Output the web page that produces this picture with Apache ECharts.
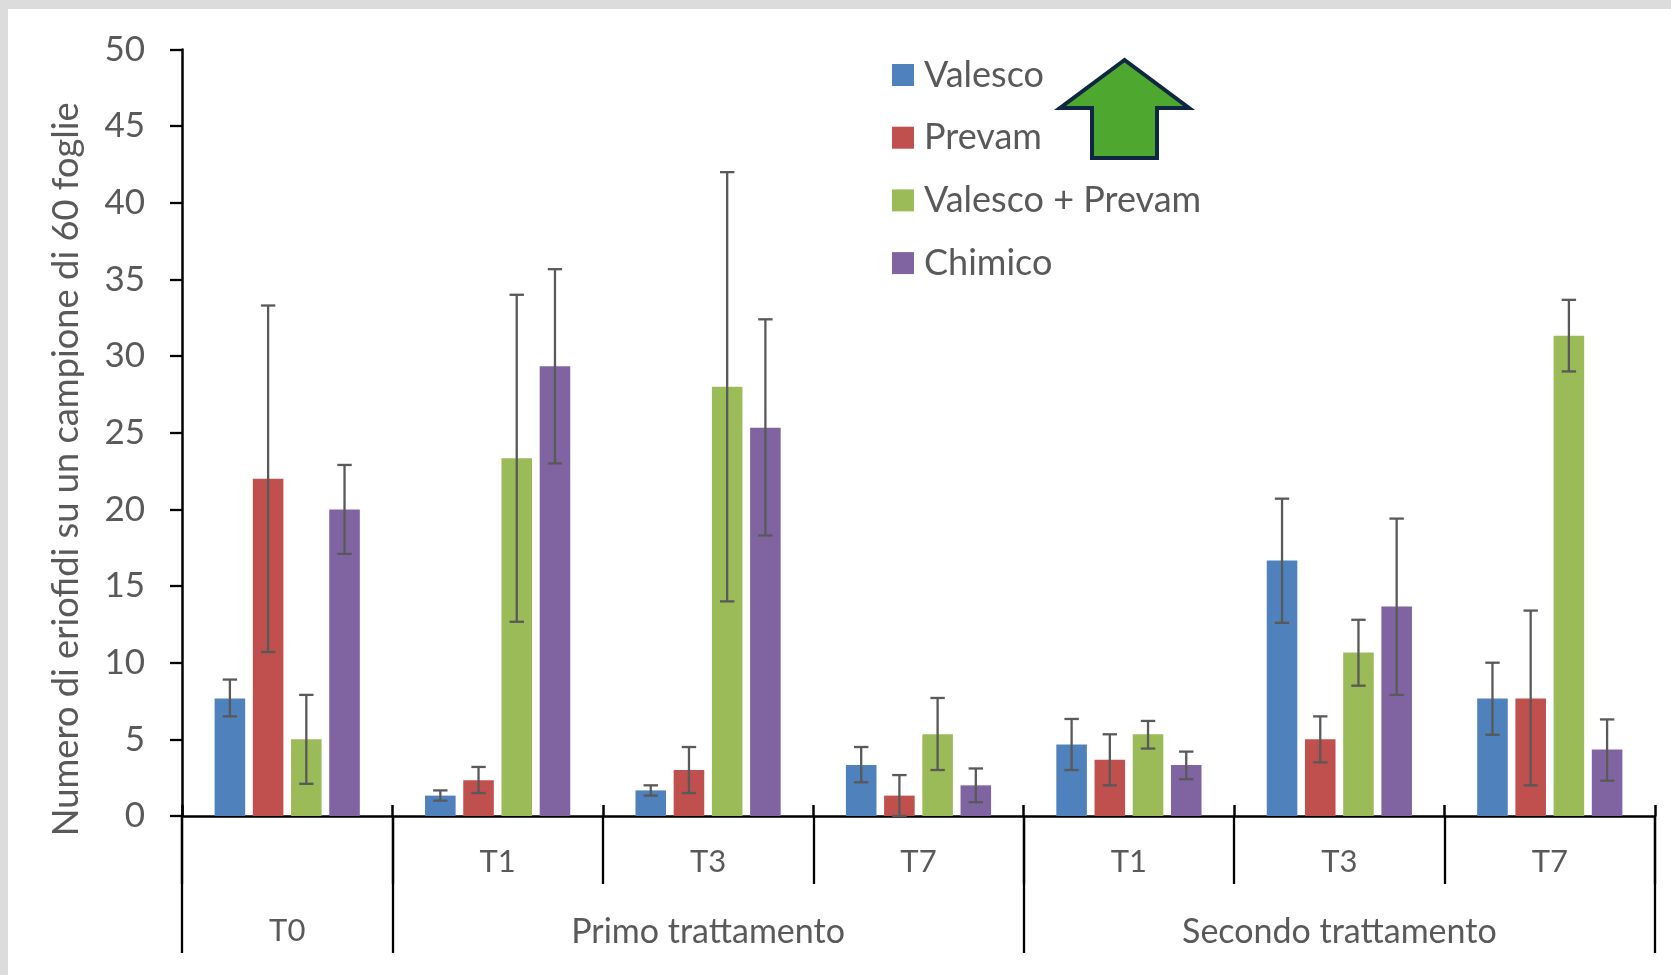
<!DOCTYPE html>
<html><head><meta charset="utf-8">
<style>html,body{margin:0;padding:0;background:#fff}#c{width:1671px;height:975px}</style>
<script src="https://cdn.jsdelivr.net/npm/echarts@6/dist/echarts.min.js"></script>
</head><body><div id="c"></div>
<script>
const categories = ['', 'T1', 'T3', 'T7', 'T1', 'T3', 'T7'];
const groupLabels = ['T0', 'Primo trattamento', 'Secondo trattamento'];
const groupCenters = [0.5, 2.5, 5.5];
const groupEdges = [0, 1, 4, 7];
const allEdges = [0, 1, 2, 3, 4, 5, 6, 7];
const yTicks = [0, 5, 10, 15, 20, 25, 30, 35, 40, 45, 50];

const seriesNames = ['Valesco', 'Prevam', 'Valesco + Prevam', 'Chimico'];
const seriesColors = ['#4f81bd', '#c0504d', '#9bbb59', '#8064a2'];

const valesco = [7.67, 1.33, 1.67, 3.33, 4.67, 16.67, 7.67];
const prevam = [22, 2.33, 3, 1.33, 3.67, 5, 7.67];
const valescoPrevam = [5, 23.33, 28, 5.33, 5.33, 10.67, 31.33];
const chimico = [20, 29.33, 25.33, 2, 3.33, 13.67, 4.33];

const valescoLow = [6.5, 1.0, 1.33, 2.2, 3.0, 12.6, 5.3];
const valescoHigh = [8.9, 1.67, 2.0, 4.5, 6.33, 20.7, 10.0];
const prevamLow = [10.7, 1.5, 1.5, 0, 2.0, 3.5, 2.0];
const prevamHigh = [33.3, 3.2, 4.5, 2.67, 5.33, 6.5, 13.4];
const valescoPrevamLow = [2.1, 12.67, 14, 3.0, 4.4, 8.5, 29.0];
const valescoPrevamHigh = [7.9, 34, 42, 7.7, 6.2, 12.8, 33.67];
const chimicoLow = [17.1, 23, 18.3, 0.9, 2.4, 7.9, 2.3];
const chimicoHigh = [22.9, 35.67, 32.4, 3.1, 4.2, 19.4, 6.3];

const values = [valesco, prevam, valescoPrevam, chimico];
const lows = [valescoLow, prevamLow, valescoPrevamLow, chimicoLow];
const highs = [valescoHigh, prevamHigh, valescoPrevamHigh, chimicoHigh];

const FONT = 'Lato';
const TEXT = '#595959';
const GAP_FRAC = 0.31, BAR_GAP = 0.25;

function errorSeries(si) {
  return {
    type: 'custom', z: 5, silent: true, clip: false, xAxisIndex: 0, yAxisIndex: 0,
    encode: { x: 0, y: [1, 2] },
    data: categories.map((_, i) => [i, lows[si][i], highs[si][i]]),
    renderItem(params, api) {
      const band = api.size([1, 0])[0];
      const w = band * (1 - GAP_FRAC) / (4 + 3 * BAR_GAP);
      const dx = (si - 1.5) * w * (1 + BAR_GAP);
      const lo = api.coord([api.value(0), api.value(1)]);
      const hi = api.coord([api.value(0), api.value(2)]);
      const x = lo[0] + dx, cap = 7.2;
      const style = { stroke: '#595959', lineWidth: 2.3, fill: 'none' };
      return { type: 'group', children: [
        { type: 'line', shape: { x1: x, y1: lo[1], x2: x, y2: hi[1] }, style },
        { type: 'line', shape: { x1: x - cap, y1: lo[1], x2: x + cap, y2: lo[1] }, style },
        { type: 'line', shape: { x1: x - cap, y1: hi[1], x2: x + cap, y2: hi[1] }, style }
      ]};
    }
  };
}

const chart = echarts.init(document.getElementById('c'), null, { renderer: 'canvas' });
chart.setOption({
  animation: false,
  backgroundColor: '#dcdcdc',
  textStyle: { fontFamily: FONT },
  graphic: [
    { type: 'rect', z: -10, silent: true, shape: { x: 8, y: 9, width: 1663, height: 966 }, style: { fill: '#fff' } },
    { type: 'polygon', z: 10, silent: true,
      shape: { points: [[1124.5, 60], [1060, 108], [1092, 108], [1092, 158], [1157, 158], [1157, 108], [1189, 108]] },
      style: { fill: '#4ea72e', stroke: '#0e2841', lineWidth: 4, lineJoin: 'miter', miterLimit: 10 } }
  ],
  legend: {
    orient: 'vertical', left: 892, top: 57, padding: 0, itemWidth: 22, itemHeight: 22, itemGap: 26.7,
    icon: 'rect', data: seriesNames, selectedMode: false,
    textStyle: { color: TEXT, fontSize: 36, fontFamily: FONT, lineHeight: 36, padding: [0, 0, 0, 5] }
  },
  grid: { left: 182, right: 16, top: 49.5, bottom: 159, containLabel: false },
  xAxis: [
    { type: 'category', data: categories, position: 'bottom',
      axisLine: { show: true, onZero: false, lineStyle: { color: '#000', width: 2.5 } },
      axisTick: { show: true, alignWithLabel: false, length: 68, lineStyle: { color: '#000', width: 2.3 } },
      axisLabel: { color: TEXT, fontSize: 31, fontFamily: FONT, margin: 30, interval: 0 },
      splitLine: { show: false } },
    { type: 'value', min: 0, max: 7, position: 'bottom',
      axisLine: { show: false, onZero: false },
      axisTick: { show: true, customValues: groupEdges, length: 137, lineStyle: { color: '#000', width: 2.3 } },
      axisLabel: { show: true, customValues: groupCenters, color: TEXT, fontSize: 34, fontFamily: FONT, margin: 99,
        formatter: v => {
          const s = groupLabels[groupCenters.indexOf(v)] || '';
          return s === 'T0' ? '{small|' + s + '}' : s;
        },
        rich: { small: { fontSize: 31, fontFamily: FONT, color: TEXT } } },
      splitLine: { show: false } },
    { type: 'value', min: 0, max: 7, position: 'bottom',
      axisLine: { show: false, onZero: false },
      axisTick: { show: true, inside: true, customValues: allEdges, length: 11, lineStyle: { color: '#000', width: 2.5 } },
      axisLabel: { show: false }, splitLine: { show: false } }
  ],
  yAxis: {
    type: 'value', min: 0, max: 50, interval: 5,
    name: 'Numero di eriofidi su un campione di 60 foglie',
    nameLocation: 'middle', nameGap: 98,
    nameTextStyle: { color: TEXT, fontSize: 36.3, fontFamily: FONT, padding: [0, 73, 0, 0] },
    axisLine: { show: true, lineStyle: { color: '#000', width: 2.5 } },
    axisTick: { show: true, customValues: yTicks, length: 12, lineStyle: { color: '#000', width: 2.3 } },
    axisLabel: { color: TEXT, fontSize: 35, fontFamily: FONT, margin: 37, customValues: yTicks },
    splitLine: { show: false }
  },
  series: seriesNames.map((name, si) => ({
    name, type: 'bar', data: values[si], barGap: (BAR_GAP * 100) + '%', barCategoryGap: (GAP_FRAC * 100) + '%',
    itemStyle: { color: seriesColors[si] }, z: 2
  })).concat(seriesNames.map((_, si) => errorSeries(si)))
});
</script></body></html>
